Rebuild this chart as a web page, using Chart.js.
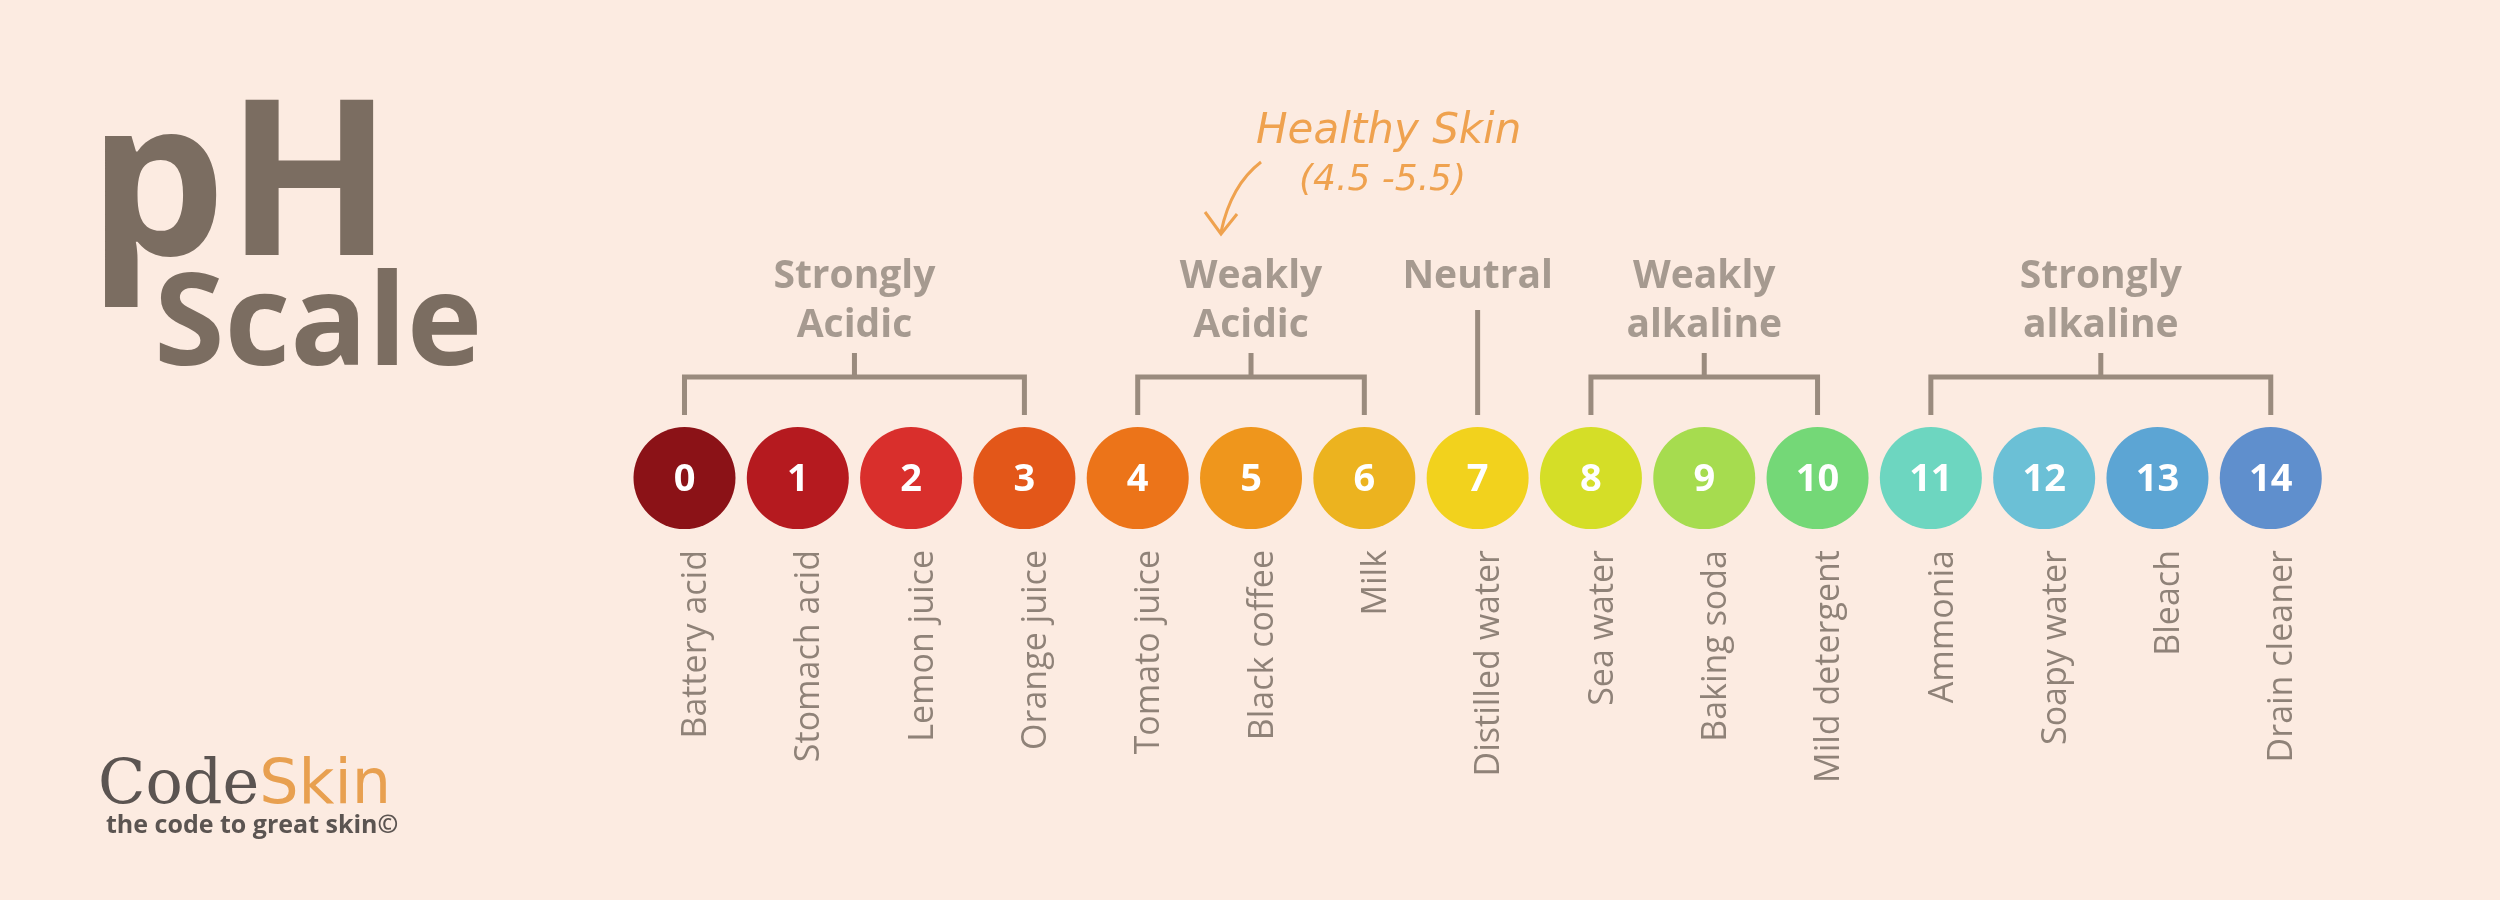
<!DOCTYPE html>
<html>
<head>
<meta charset="utf-8">
<script src="https://cdn.jsdelivr.net/npm/chart.js@4.4.1/dist/chart.umd.min.js"></script>
<style>
  html, body { margin: 0; padding: 0; background: #fcebe1; }
  #wrap { width: 2500px; height: 900px; position: relative; }
</style>
</head>
<body>
<div id="wrap"><canvas id="phChart" width="2500" height="900"></canvas></div>
<script>
// pH values and what they stand for
const phValues = [0, 1, 2, 3, 4, 5, 6, 7, 8, 9, 10, 11, 12, 13, 14];
const substances = ['Battery acid', 'Stomach acid', 'Lemon juice', 'Orange juice', 'Tomato juice',
    'Black coffee', 'Milk', 'Distilled water', 'Sea water', 'Baking soda', 'Mild detergent',
    'Ammonia', 'Soapy water', 'Bleach', 'Drain cleaner'];
const circleColors = ['#8b1217', '#b51a1f', '#d92f2c', '#e35719', '#ec7419', '#ef961c', '#ecb31f',
    '#f2d21d', '#d5de27', '#a6dc4f', '#74d877', '#6dd6c0', '#6bc0d6', '#5ca5d4', '#5f8fcd'];
// groups
const groupFrom = [0, 4, 7, 8, 11];
const groupTo = [3, 6, 7, 10, 14];
const groupNames = [['Strongly', 'Acidic'], ['Weakly', 'Acidic'], ['Neutral', ''], ['Weakly', 'alkaline'], ['Strongly', 'alkaline']];
const healthyRange = [4.5, 5.5];

const brown = '#7b6d61';
const lineGrey = '#9a8b7e';

const decorPlugin = {
    id: 'decor',
    afterDatasetsDraw(chart) {
        const ctx = chart.ctx;
        const xs = chart.scales.x;
        const ys = chart.scales.y;
        const cy = ys.getPixelForValue(0);
        ctx.save();

        // numbers inside circles
        ctx.fillStyle = '#ffffff';
        ctx.font = 'bold 38px "Open Sans"';
        ctx.textAlign = 'center';
        ctx.textBaseline = 'middle';
        phValues.forEach(v => ctx.fillText(String(v), xs.getPixelForValue(v), cy + 2));

        // substance labels, rotated
        ctx.fillStyle = '#8f8278';
        ctx.font = '34px "Open Sans"';
        substances.forEach((s, i) => {
            ctx.save();
            ctx.translate(xs.getPixelForValue(phValues[i]) + 12, cy + 72);
            ctx.rotate(-Math.PI / 2);
            ctx.textAlign = 'right';
            ctx.fillText(s, 0, 0);
            ctx.restore();
        });

        // group brackets and names
        ctx.strokeStyle = lineGrey;
        ctx.lineWidth = 5;
        groupFrom.forEach((f, g) => {
            const x1 = xs.getPixelForValue(f);
            const x2 = xs.getPixelForValue(groupTo[g]);
            const mid = (x1 + x2) / 2;
            ctx.beginPath();
            if (f === groupTo[g]) {
                ctx.moveTo(mid, 310);
                ctx.lineTo(mid, 415);
            } else {
                ctx.moveTo(x1, 415);
                ctx.lineTo(x1, 377);
                ctx.lineTo(x2, 377);
                ctx.lineTo(x2, 415);
                ctx.moveTo(mid, 377);
                ctx.lineTo(mid, 353);
            }
            ctx.stroke();
            ctx.fillStyle = '#a69a90';
            ctx.font = 'bold 39px "Open Sans"';
            ctx.textAlign = 'center';
            ctx.textBaseline = 'alphabetic';
            ctx.fillText(groupNames[g][0], mid, 288);
            if (groupNames[g][1]) ctx.fillText(groupNames[g][1], mid, 337);
        });

        // healthy skin note
        const hx = xs.getPixelForValue((healthyRange[0] + healthyRange[1]) / 2);
        ctx.fillStyle = '#efa24f';
        ctx.font = 'italic 42px "DejaVu Sans"';
        ctx.textAlign = 'left';
        ctx.fillText('Healthy Skin', hx + 5, 143);
        ctx.font = 'italic 36px "DejaVu Sans"';
        ctx.fillText('(' + healthyRange[0] + ' -' + healthyRange[1] + ')', hx + 48, 190);
        ctx.strokeStyle = '#efa24f';
        ctx.lineWidth = 3;
        ctx.beginPath();
        ctx.moveTo(hx + 10, 162);
        ctx.quadraticCurveTo(hx - 20, 185, hx - 30, 232);
        ctx.stroke();
        ctx.beginPath();
        ctx.moveTo(hx - 46, 212);
        ctx.lineTo(hx - 30, 234);
        ctx.lineTo(hx - 14, 214);
        ctx.stroke();

        // title
        ctx.fillStyle = brown;
        ctx.textAlign = 'left';
        ctx.font = 'bold 218px "Open Sans"';
        ctx.fillText('pH', 88, 255);
        ctx.font = 'bold 128px "Open Sans"';
        ctx.fillText('Scale', 154, 365);

        // logo
        ctx.font = '62px "DejaVu Serif"';
        ctx.fillStyle = '#5b5451';
        ctx.fillText('Code', 98, 803);
        const cw = ctx.measureText('Code').width;
        ctx.fillStyle = '#e8a050';
        ctx.font = '62px "DejaVu Sans"';
        ctx.fillText('Skin', 98 + cw, 803);
        ctx.fillStyle = '#5b5451';
        ctx.font = 'bold 25px "Open Sans"';
        ctx.fillText('the code to great skin\u00a9', 106, 833);
        ctx.restore();
    }
};

new Chart(document.getElementById('phChart'), {
    type: 'scatter',
    data: {
        datasets: [{
            data: phValues.map(v => ({ x: v, y: 0 })),
            pointRadius: 51,
            pointHoverRadius: 51,
            pointBackgroundColor: circleColors,
            pointBorderWidth: 0
        }]
    },
    options: {
        responsive: false,
        animation: false,
        devicePixelRatio: 1,
        layout: { padding: 0 },
        events: [],
        scales: {
            x: { display: false, min: -5.591, max: 15.573 },
            y: { display: false, min: -1, max: 1.151 }
        },
        plugins: {
            legend: { display: false },
            tooltip: { enabled: false }
        }
    },
    plugins: [decorPlugin]
});
</script>
</body>
</html>
